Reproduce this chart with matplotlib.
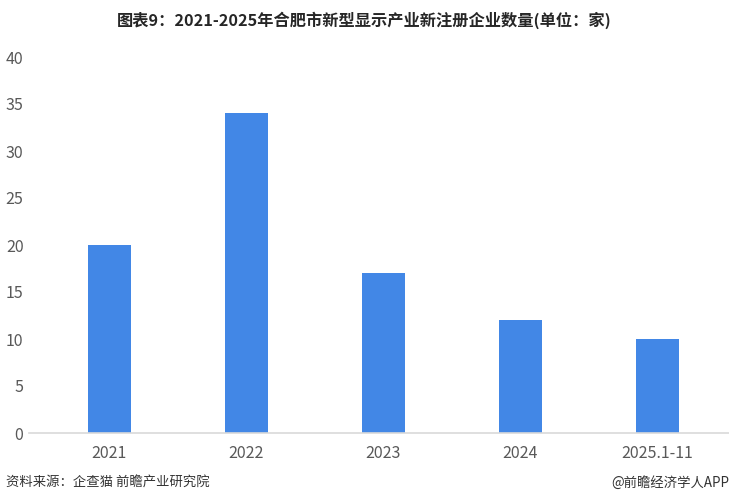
import matplotlib
matplotlib.use("Agg")
import matplotlib.pyplot as plt

plt.rcParams['font.family'] = ['Noto Sans CJK SC', 'DejaVu Sans']

# data
years = ["2021", "2022", "2023", "2024", "2025.1-11"]
counts = [20, 34, 17, 12, 10]

fig = plt.figure(figsize=(7.29, 5.04), dpi=100)
ax = fig.add_axes([29/729, 1-433/504, 700/729, 376/504])

x = range(len(years))
ax.bar(x, counts, width=0.314, color="#4287E6", zorder=2)

ax.set_xlim(-0.584, 4.525)
ax.set_ylim(0, 40)
ax.set_yticks(range(0, 41, 5))
ax.set_xticks(list(x))
ax.set_xticklabels(years)

for s in ["top", "right", "left"]:
    ax.spines[s].set_visible(False)
ax.spines["bottom"].set_color("#D9D9D9")
ax.spines["bottom"].set_linewidth(1.2)
ax.tick_params(axis="both", length=0, colors="#595959", labelsize=11.5)
ax.tick_params(axis="x", pad=9)
ax.tick_params(axis="y", pad=4)
for lab in ax.get_xticklabels() + ax.get_yticklabels():
    lab.set_fontweight("light")

fig.text(0.5, 1-20/504, "图表9：2021-2025年合肥市新型显示产业新注册企业数量(单位：家)",
         ha="center", va="center", fontsize=11.7, fontweight="bold", color="#262626")
fig.text(6/729, 1-483/504, "资料来源：企查猫 前瞻产业研究院",
         ha="left", va="center", fontsize=9.6, color="#333333")
fig.text(729/729, 1-483/504, "@前瞻经济学人APP",
         ha="right", va="center", fontsize=9.6, color="#333333")

fig.savefig("out.png", dpi=100)
